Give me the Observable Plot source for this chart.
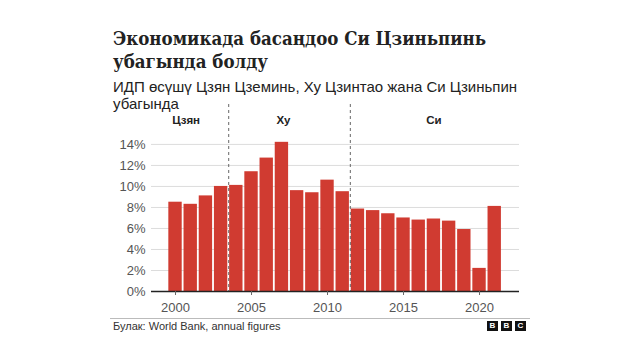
<!DOCTYPE html>
<html>
<head>
<meta charset="utf-8">
<script src="https://cdn.jsdelivr.net/npm/d3@7"></script>
<script src="https://cdn.jsdelivr.net/npm/@observablehq/plot@0.6"></script>
<style>
  html, body { margin: 0; padding: 0; background: #fff; }
  #wrap { position: relative; width: 640px; height: 360px; overflow: hidden; }
  #title { position: absolute; left: 113px; top: 27px; font-family: "DejaVu Serif Condensed", "DejaVu Serif", serif; font-stretch: condensed; font-weight: bold; font-size: 18.5px; line-height: 23px; color: #222; white-space: nowrap; }
  #subtitle { position: absolute; left: 113px; top: 78px; font-family: "Liberation Sans", Arial, sans-serif; font-size: 15px; line-height: 17px; color: #222; white-space: nowrap; }
  #chart { position: absolute; left: 0; top: 95px; }
  #rule { position: absolute; left: 110px; top: 318px; width: 420px; height: 1px; background: #bbb; }
  #source { position: absolute; left: 113px; top: 320px; font-family: "Liberation Sans", Arial, sans-serif; font-size: 11px; line-height: 13px; color: #333; }
  #logo { position: absolute; left: 487px; top: 321px; display: flex; gap: 3px; }
  #logo span { display: block; width: 11px; height: 10px; background: #111; color: #fff; font-family: "Liberation Sans", Arial, sans-serif; font-weight: bold; font-size: 8px; line-height: 10px; text-align: center; }
</style>
</head>
<body>
<div id="wrap">
  <div id="title">Экономикада басаңдоо Си Цзиньпинь<br>убагында болду</div>
  <div id="subtitle">ИДП өсүшү Цзян Цземинь, Ху Цзинтао жана Си Цзиньпин<br>убагында</div>
  <div id="chart"></div>
  <div id="rule"></div>
  <div id="source">Булак: World Bank, annual figures</div>
  <div id="logo"><span>B</span><span>B</span><span>C</span></div>
</div>
<script>
const years = [2000,2001,2002,2003,2004,2005,2006,2007,2008,2009,2010,2011,2012,2013,2014,2015,2016,2017,2018,2019,2020,2021];
const growth = [8.5,8.3,9.1,10.0,10.1,11.4,12.7,14.2,9.6,9.4,10.6,9.5,7.85,7.7,7.4,7.0,6.8,6.9,6.7,5.9,2.2,8.1];
const eraNames = ["Цзян", "Ху", "Си"];
const eraLabelYears = [2000.7, 2007.1, 2017.0];
const eraDividers = [2003.5, 2011.5];
const yTicks = [0,2,4,6,8,10,12,14];
const xTicks = [2000,2005,2010,2015,2020];

const data = years.map((y, i) => ({year: y, value: growth[i]}));
const eras = eraNames.map((n, i) => ({name: n, x: eraLabelYears[i]}));

const chart = Plot.plot({
  width: 640,
  height: 221,
  marginLeft: 151,
  marginRight: 121,
  marginTop: 9,
  marginBottom: 25,
  x: {type: "linear", domain: [1998.42, 2022.63], label: null},
  y: {domain: [0, 17.8], label: null},
  style: {fontFamily: "Liberation Sans, Arial, sans-serif", background: "transparent"},
  marks: [
    Plot.ruleY(yTicks.slice(1), {stroke: "#dcdcdc", strokeWidth: 1}),
    Plot.rectY(data, {x1: d => d.year - 0.44, x2: d => d.year + 0.44, y1: 0, y2: "value", fill: "#d03b31"}),
    Plot.ruleX(eraDividers, {stroke: "#666", strokeDasharray: "3,3", strokeWidth: 1}),
    Plot.ruleY([0], {stroke: "#222", strokeWidth: 1.3}),
    Plot.axisY({ticks: yTicks, tickFormat: d => d + "%", tickSize: 0, tickPadding: 6, fontSize: 13, color: "#555", label: null}),
    Plot.axisX({ticks: xTicks, tickFormat: d => String(d), tickSize: 4, tickPadding: 7, fontSize: 13, color: "#555", stroke: "#666", label: null}),
    Plot.text(eras, {x: "x", text: "name", frameAnchor: "top", dy: 16, lineAnchor: "middle", fontSize: 11.5, fontWeight: "bold", fill: "#222"})
  ]
});
document.getElementById("chart").appendChild(chart);
</script>
</body>
</html>
